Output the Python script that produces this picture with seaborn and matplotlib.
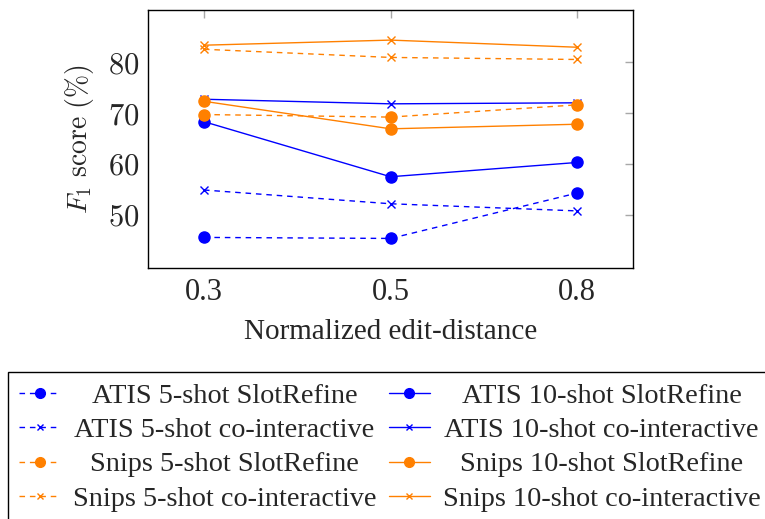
import pandas as pd
import matplotlib
matplotlib.use("Agg")
import matplotlib.pyplot as plt
from matplotlib.lines import Line2D
from matplotlib.ticker import FuncFormatter
import seaborn as sns

# values
distances = ["0.3", "0.5", "0.8"]

atis_5_slotrefine = [45.6, 45.4, 54.3]
atis_10_slotrefine = [68.3, 57.5, 60.3]
atis_5_cointeractive = [54.9, 52.2, 50.8]
atis_10_cointeractive = [72.7, 71.8, 72.0]
snips_5_slotrefine = [69.7, 69.2, 71.6]
snips_10_slotrefine = [72.3, 66.9, 67.8]
snips_5_cointeractive = [82.5, 80.9, 80.5]
snips_10_cointeractive = [83.3, 84.3, 82.9]

BLUE = "#0000ff"
ORANGE = "#ff8000"
DASH = (0, (4, 3.5))

# name, values, color, linestyle, marker  (drawing order as in the source)
series = [
    ("ATIS 5-shot SlotRefine", atis_5_slotrefine, BLUE, DASH, "o"),
    ("ATIS 10-shot SlotRefine", atis_10_slotrefine, BLUE, "-", "o"),
    ("ATIS 5-shot co-interactive", atis_5_cointeractive, BLUE, DASH, "x"),
    ("ATIS 10-shot co-interactive", atis_10_cointeractive, BLUE, "-", "x"),
    ("Snips 5-shot SlotRefine", snips_5_slotrefine, ORANGE, DASH, "o"),
    ("Snips 10-shot SlotRefine", snips_10_slotrefine, ORANGE, "-", "o"),
    ("Snips 5-shot co-interactive", snips_5_cointeractive, ORANGE, DASH, "x"),
    ("Snips 10-shot co-interactive", snips_10_cointeractive, ORANGE, "-", "x"),
]

rows = []
for name, vals, *_ in series:
    for d, v in zip(distances, vals):
        rows.append({"series": name, "distance": d, "f1": v})
df = pd.DataFrame(rows)

sns.set_style("white")
plt.rcParams["font.family"] = ["Liberation Serif", "DejaVu Serif"]
plt.rcParams["mathtext.fontset"] = "cm"

fig = plt.figure(figsize=(7.65, 5.19), dpi=100)
ax = fig.add_axes([0.1935, 0.4836, 0.634, 0.4971])

for name, vals, color, ls, marker in series:
    sub = df[df["series"] == name]
    ms = 8 if marker == "o" else 6
    sns.lineplot(data=sub, x="distance", y="f1", ax=ax, color=color,
                 linestyle=ls, linewidth=1.0, marker=marker, markersize=ms,
                 markeredgecolor=color, markeredgewidth=1.0, legend=False)

ax.set_xlim(-0.3, 2.3)
ax.set_ylim(39.6, 90.2)
ax.set_yticks([50, 60, 70, 80])
ax.yaxis.set_major_formatter(FuncFormatter(lambda v, p: f"${v:.0f}$"))
ax.tick_params(direction="in", length=6, width=1, color="#a8a8a8",
               top=True, right=True, labelsize=22)
ax.tick_params(axis="x", pad=7)
ax.tick_params(axis="y", pad=6)
for s in ax.spines.values():
    s.set_color("black")
    s.set_linewidth(1.0)

ax.set_xlabel("Normalized edit-distance", fontsize=21, labelpad=9)
ax.set_ylabel(r"$F_1\ \mathrm{score\ (\%)}$", fontsize=20, labelpad=9)

# legend laid out as in the source: 5-shot left column, 10-shot right column
order = [0, 2, 4, 6, 1, 3, 5, 7]
handles, labels = [], []
for i in order:
    name, vals, color, ls, marker = series[i]
    handles.append(Line2D([], [], color=color, linestyle=ls, linewidth=1.0,
                          marker=marker, markersize=7 if marker == "o" else 4,
                          markeredgecolor=color))
    labels.append(name)

leg = fig.legend(handles, labels, ncol=2, loc="upper left",
                 bbox_to_anchor=(8 / 765, 1 - 372 / 519), fontsize=20.3,
                 frameon=True, fancybox=False, edgecolor="black", framealpha=1,
                 handlelength=1.45, handletextpad=0.45, columnspacing=0.45,
                 labelspacing=0.3, borderpad=0.4, borderaxespad=0)
leg.get_frame().set_linewidth(1.0)

# centre each label inside its column, like the pgfplots legend matrix
fig.canvas.draw()
renderer = fig.canvas.get_renderer()
texts = leg.get_texts()
for col in (texts[:4], texts[4:]):
    widths = [t.get_window_extent(renderer).width for t in col]
    wmax = max(widths)
    for t, w in zip(col, widths):
        t.set_x((wmax - w) / 2)

fig.savefig("out.png", dpi=100)
